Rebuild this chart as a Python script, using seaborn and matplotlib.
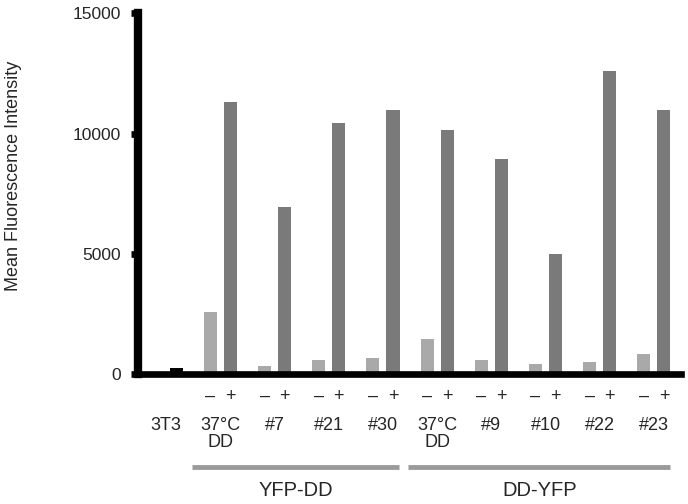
import matplotlib
matplotlib.use("Agg")
import matplotlib.pyplot as plt
import seaborn as sns
import pandas as pd

# ---- data ----
conditions = ["3T3", "YFP-DD 37°C DD", "YFP-DD #7", "YFP-DD #21", "YFP-DD #30",
              "DD-YFP 37°C DD", "DD-YFP #9", "DD-YFP #10", "DD-YFP #22", "DD-YFP #23"]
tick_labels = ["3T3", "37°C\nDD", "#7", "#21", "#30", "37°C\nDD", "#9", "#10", "#22", "#23"]
minus_vals = [None, 2560, 340, 570, 650, 1460, 580, 410, 480, 815]
plus_vals = [260, 11320, 6930, 10450, 10980, 10150, 8950, 4980, 12610, 10980]
treatments = ["–", "+"]
groups = ["YFP-DD", "DD-YFP"]
group_members = [[1, 2, 3, 4], [5, 6, 7, 8, 9]]
y_ticks = [0, 5000, 10000, 15000]

rows = []
for c, m, p in zip(conditions, minus_vals, plus_vals):
    if m is not None:
        rows.append({"condition": c, "treatment": "–", "value": m})
    rows.append({"condition": c, "treatment": "+", "value": p})
df = pd.DataFrame(rows)

sns.set_style("white")
plt.rcParams["font.family"] = ["Liberation Sans", "DejaVu Sans"]

fig = plt.figure(figsize=(6.88, 5.04), dpi=100)
ax = fig.add_axes([137.5 / 688, (504 - 374) / 504, (681 - 137.5) / 688, 360.7 / 504])

palette = {"–": "#a9a9a9", "+": "#7a7a7a"}
sns.barplot(data=df, x="condition", y="value", hue="treatment", order=conditions,
            hue_order=treatments, palette=palette, width=0.74, gap=0.35,
            saturation=1, legend=False, ax=ax, linewidth=0)

# 3T3 control bar drawn in black
for patch in ax.patches:
    cx = patch.get_x() + patch.get_width() / 2
    if cx < 0.5:
        patch.set_facecolor("black")

ax.set_ylim(0, 15000)
ax.set_xlim(-0.53, 9.5)
ax.set_yticks(y_ticks)
ax.set_yticklabels([str(t) for t in y_ticks], fontsize=12.5)
ax.set_xticks(range(len(conditions)))
ax.set_xticklabels(tick_labels, fontsize=13, linespacing=1.0)
ax.tick_params(axis="x", length=0, pad=31)
ax.tick_params(axis="y", left=True, direction="out", length=5, width=4.8, pad=7,
               color="black")
ax.set_xlabel("")
ax.set_ylabel("Mean Fluorescence Intensity", fontsize=13)
ax.yaxis.set_label_coords(-0.213, 0.548)

for side in ["top", "right"]:
    ax.spines[side].set_visible(False)
ax.spines["left"].set_linewidth(6)
ax.spines["bottom"].set_linewidth(4.8)
ax.spines["left"].set_color("black")
ax.spines["bottom"].set_color("black")

trans = ax.get_xaxis_transform()
# minus / plus signs under each pair
for i in range(1, len(conditions)):
    ax.text(i - 0.185, -0.061, "–", transform=trans, ha="center", va="center", fontsize=13)
    ax.text(i + 0.185, -0.061, "+", transform=trans, ha="center", va="center", fontsize=13)

# group bars and labels
for name, members in zip(groups, group_members):
    x0 = members[0] - 0.53
    x1 = members[-1] + 0.3
    ax.plot([x0, x1], [-0.257, -0.257], transform=trans, color="#9a9a9a",
            linewidth=3.5, clip_on=False, solid_capstyle="butt")
    ax.text((x0 + x1) / 2, -0.322, name, transform=trans, ha="center", va="center",
            fontsize=14.5)

fig.savefig("out.png", dpi=100)
